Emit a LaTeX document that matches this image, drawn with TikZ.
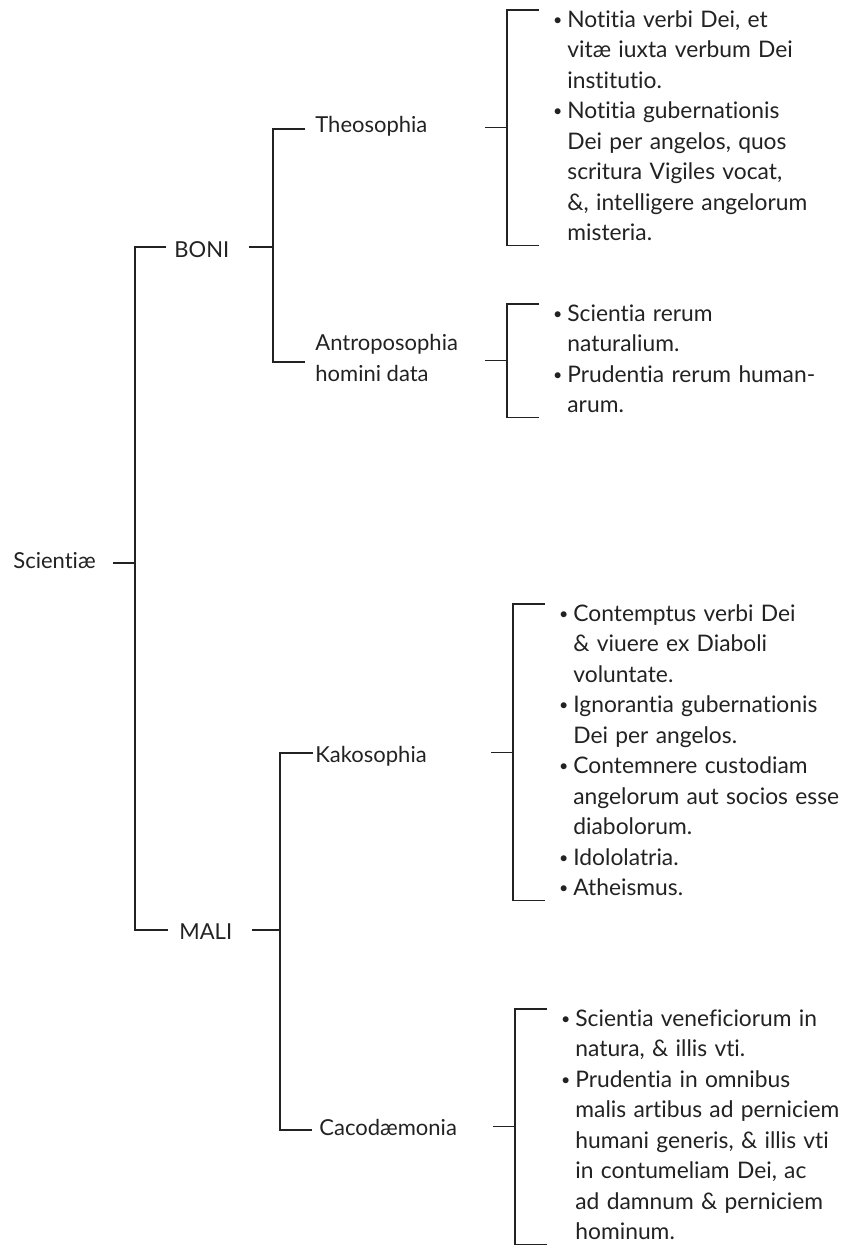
\documentclass[tikz,border=0pt]{standalone}
\usepackage{fontspec}
\setmainfont[Ligatures=NoCommon]{Lato}
\newfontfamily\lstfont[Ligatures=NoCommon, WordSpace=1.25]{Lato}
\usetikzlibrary{positioning}

\definecolor{ink}{HTML}{222222}

\tikzset{
  conn/.style={draw=ink, line width=0.6pt},
  lbl/.style={anchor=base west, inner sep=0pt, text=ink, font=\fontsize{11}{15.25}\selectfont},
  lst/.style={anchor=north west, inner sep=0pt, align=left, text=ink, font=\lstfont\fontsize{11.4}{15.25}\selectfont},
}
\newcommand{\bul}{\llap{\raisebox{0.15ex}{\fontsize{8}{8}\selectfont\textbullet}\hspace{2.5pt}}}

\begin{document}
\begin{tikzpicture}[x=0.5pt, y=-0.5pt]
\useasboundingbox (0,0) rectangle (849,1246);

% labels of the tree
\node[lbl] (sci) at (13,568) {Scientiæ};
\node[lbl] (boni) at (174,257) {BONI};
\node[lbl] (mali) at (179,939) {MALI};
\node[lbl] (theo) at (315,133) {Theosophia};
\node[lbl, anchor=north west, align=left] (antro) at (315,334) {Antroposophia\\homini data};
\node[lbl] (kako) at (315,762) {Kakosophia};
\node[lbl] (caco) at (319,1135) {Cacodæmonia};

% lists
\node[lst] (theoL) at (567,10) {\bul Notitia verbi Dei, et\\
  vitæ iuxta verbum Dei\\
  institutio.\\
  \bul Notitia gubernationis\\
  Dei per angelos, quos\\
  scritura Vigiles vocat,\\
  \&, intelligere angelorum\\
  misteria.};
\node[lst] (antroL) at (567,304) {\bul Scientia rerum\\
  naturalium.\\
  \bul Prudentia rerum human-\\
  arum.};
\node[lst] (kakoL) at (573,604) {\bul Contemptus verbi Dei\\
  \& viuere ex Diaboli\\
  voluntate.\\
  \bul Ignorantia gubernationis\\
  Dei per angelos.\\
  \bul Contemnere custodiam\\
  angelorum aut socios esse\\
  diabolorum.\\
  \bul Idololatria.\\
  \bul Atheismus.};
\node[lst] (cacoL) at (575,1009) {\bul Scientia veneficiorum in\\
  natura, \& illis vti.\\
  \bul Prudentia in omnibus\\
  malis artibus ad perniciem\\
  humani generis, \& illis vti\\
  in contumeliam Dei, ac\\
  ad damnum \& perniciem\\
  hominum.};

% joints
\coordinate (sciJ) at (135,563);
\coordinate (boniJ) at (135,247);
\coordinate (maliJ) at (135,930);
\coordinate (theoJ) at (273,129);
\coordinate (antroJ) at (273,362);
\coordinate (kakoJ) at (280,753);
\coordinate (cacoJ) at (280,1130);

% connectors
\draw[conn, shorten <=8.5pt] (sci.east |- sciJ) -- (sciJ);
\draw[conn, shorten <=4pt, shorten >=5.5pt] (boni.west |- boniJ) -- (boniJ) -- (maliJ) -- (mali.west |- maliJ);
\draw[conn, shorten <=9.5pt] (boni.east |- boniJ) -- (boniJ -| theoJ);
\draw[conn, shorten <=5pt, shorten >=5pt] (theo.west |- theoJ) -- (theoJ) -- (antroJ) -- (antro.west |- antroJ);
\draw[conn, shorten <=9.5pt] (mali.east |- maliJ) -- (maliJ -| kakoJ);
\draw[conn, shorten <=1pt, shorten >=3.5pt] (kako.west |- kakoJ) -- (kakoJ) -- (cacoJ) -- (caco.west |- cacoJ);

% brackets round the lists
\foreach \l in {theoL,antroL,kakoL,cacoL}{
  \draw[conn] ([xshift=-14pt]\l.north west) -| ([xshift=-30pt,yshift=-2pt]\l.south west) -- ([xshift=-14pt,yshift=-2pt]\l.south west);
  \draw[conn] ([xshift=-41pt,yshift=-1pt]\l.west) -- ([xshift=-30pt,yshift=-1pt]\l.west);
}
\end{tikzpicture}
\end{document}
